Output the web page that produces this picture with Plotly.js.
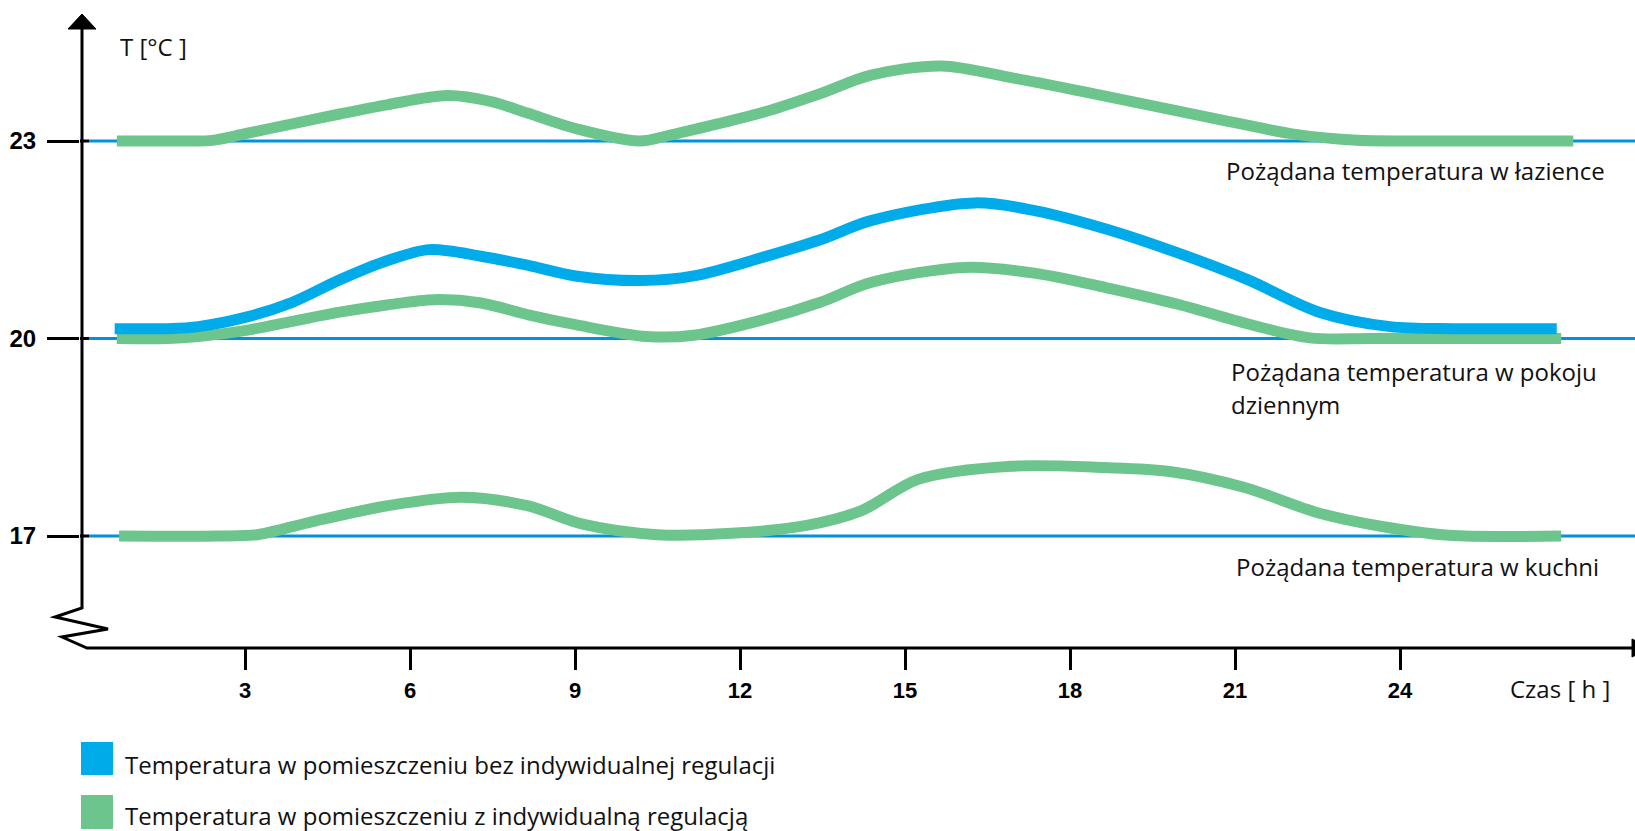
<!DOCTYPE html>
<html>
<head>
<meta charset="utf-8">
<script src="https://cdn.plot.ly/plotly-3.0.1.min.js"></script>
<style>
html,body{margin:0;padding:0;background:#fff;}
#chart{width:1635px;height:831px;}
</style>
</head>
<body>
<div id="chart"></div>
<script>
// ---------- data ----------
const hourTicks = [3, 6, 9, 12, 15, 18, 21, 24];
const tempTicks = [17, 20, 23];

const desiredTemps = [23, 20, 17];
const desiredLabels = [
  "Pożądana temperatura w łazience",
  "Pożądana temperatura w pokoju",
  "Pożądana temperatura w kuchni"
];
const desiredLabelExtra = "dziennym";

const seriesNames = [
  "Temperatura w pomieszczeniu bez indywidualnej regulacji",
  "Temperatura w pomieszczeniu z indywidualną regulacją"
];

// bathroom, with individual regulation
const hoursBath = [0.67, 2.0, 2.4, 3.0, 3.86, 4.72, 5.58, 6.69, 7.47, 8.15, 9.01, 10.17, 10.73, 11.59, 12.44, 13.46, 14.38, 15.66, 16.95, 18.24, 19.53, 20.81, 22.10, 23.22, 24.5, 27.15];
const tempBath  = [23.0, 23.0, 23.01, 23.11, 23.26, 23.41, 23.55, 23.69, 23.60, 23.42, 23.19, 23.0, 23.09, 23.26, 23.44, 23.72, 24.0, 24.14, 23.96, 23.75, 23.53, 23.31, 23.10, 23.01, 23.0, 23.0];

// living room, without individual regulation
const hoursNoReg = [0.63, 1.6, 2.15, 3.0, 3.86, 4.72, 5.58, 6.35, 7.29, 8.15, 9.01, 10.21, 11.16, 12.44, 13.46, 14.38, 16.27, 17.38, 18.67, 19.96, 21.24, 22.53, 23.82, 25.0, 26.85];
const tempNoReg  = [20.15, 20.15, 20.18, 20.32, 20.55, 20.89, 21.18, 21.35, 21.25, 21.11, 20.95, 20.88, 20.95, 21.24, 21.50, 21.79, 22.06, 21.94, 21.66, 21.30, 20.89, 20.40, 20.18, 20.15, 20.15];

// living room, with individual regulation
const hoursLiving = [0.67, 1.6, 2.15, 3.0, 3.86, 4.72, 5.58, 6.44, 7.29, 8.15, 9.01, 10.30, 11.16, 12.44, 13.46, 14.38, 16.09, 17.38, 18.67, 19.96, 21.24, 22.36, 23.5, 26.93];
const tempLiving  = [20.0, 20.0, 20.03, 20.12, 20.26, 20.40, 20.51, 20.59, 20.54, 20.36, 20.21, 20.03, 20.05, 20.29, 20.55, 20.85, 21.08, 20.99, 20.77, 20.52, 20.22, 20.01, 20.0, 20.0];

// kitchen, with individual regulation
const hoursKitchen = [0.71, 2.5, 3.22, 4.23, 5.59, 6.94, 8.13, 9.14, 10.50, 11.85, 13.21, 14.22, 15.24, 16.93, 18.62, 19.81, 21.16, 22.52, 23.70, 24.89, 26.93];
const tempKitchen  = [17.0, 17.0, 17.02, 17.22, 17.46, 17.59, 17.46, 17.18, 17.02, 17.04, 17.16, 17.39, 17.86, 18.06, 18.04, 17.98, 17.74, 17.35, 17.14, 17.01, 17.0];

// ---------- styling ----------
const W = 1635, H = 831;
const M = {l: 80, r: 2, t: 14, b: 183};
const PW = W - M.l - M.r, PH = H - M.t - M.b;
const PX_PER_HOUR = 55, PX_PER_DEG = 65.83;
const xRange = [0, PW / PX_PER_HOUR];
const yRange = [17 - (648 - 536) / PX_PER_DEG, 23 + (141 - 14) / PX_PER_DEG];

const GREEN = "#6cc58c", BLUE = "#00abe9", LINEBLUE = "#0092da";
const TXT = "'Open Sans', Lato, sans-serif";
const TXT_SIZE = 24;

function fx(px){ return (px - M.l) / PW; }
function fy(py){ return (M.t + PH - py) / PH; }
function pathOf(pts){ return pts.map((p,i)=>(i?"L":"M")+fx(p[0]).toFixed(5)+","+fy(p[1]).toFixed(5)).join(" ") ; }

const curveLine = (c) => ({color: c, width: 11, shape: "spline", smoothing: 0.9});

const traces = [
  {x: hoursLiving, y: tempLiving, mode: "lines", line: curveLine(GREEN), name: seriesNames[1], showlegend: false, hoverinfo: "skip"},
  {x: hoursNoReg, y: tempNoReg, mode: "lines", line: curveLine(BLUE), name: seriesNames[0], showlegend: false, hoverinfo: "skip"},
  {x: hoursBath, y: tempBath, mode: "lines", line: curveLine(GREEN), name: seriesNames[1], showlegend: false, hoverinfo: "skip"},
  {x: hoursKitchen, y: tempKitchen, mode: "lines", line: curveLine(GREEN), name: seriesNames[1], showlegend: false, hoverinfo: "skip"}
];

const shapes = [];
// desired temperature lines
desiredTemps.forEach(t => shapes.push({
  type: "line", layer: "below", xref: "paper", yref: "y",
  x0: fx(89), x1: 1.02, y0: t, y1: t,
  line: {color: LINEBLUE, width: 3}
}));
// axes with break and arrows
shapes.push({type: "path", xref: "paper", yref: "paper", layer: "above",
  path: pathOf([[82,26],[82,608],[55,617],[108,629],[62,637],[87,648],[1634,648]]),
  line: {color: "#000", width: 3}});
shapes.push({type: "path", xref: "paper", yref: "paper", layer: "above",
  path: pathOf([[82,14],[96,29],[68,29]]) + " Z",
  fillcolor: "#000", line: {color: "#000", width: 1}});
shapes.push({type: "path", xref: "paper", yref: "paper", layer: "above",
  path: pathOf([[1632,639],[1650,648],[1632,657]]) + " Z",
  fillcolor: "#000", line: {color: "#000", width: 1}});
// y tick stubs crossing to the right of the axis
tempTicks.forEach(t => shapes.push({type: "line", xref: "paper", yref: "y",
  x0: fx(80), x1: fx(89), y0: t, y1: t, line: {color: "#000", width: 3}}));
// legend squares
shapes.push({type: "rect", xref: "paper", yref: "paper", x0: fx(81), x1: fx(113), y0: fy(775), y1: fy(742),
  fillcolor: BLUE, line: {width: 0}});
shapes.push({type: "rect", xref: "paper", yref: "paper", x0: fx(81), x1: fx(113), y0: fy(829), y1: fy(795),
  fillcolor: GREEN, line: {width: 0}});

const ann = (text, px, py) => ({
  text: text, xref: "paper", yref: "paper", x: fx(px), y: fy(py),
  xanchor: "left", yanchor: "middle", showarrow: false,
  font: {family: TXT, size: TXT_SIZE, color: "#111"}
});

const annotations = [
  ann("T [°C ]", 118, 46),
  ann(desiredLabels[0], 1224, 170),
  ann(desiredLabels[1], 1229, 371),
  ann(desiredLabelExtra, 1229, 405),
  ann(desiredLabels[2], 1234, 566),
  ann("Czas [ h ]", 1508, 688),
  ann(seriesNames[0], 123, 764),
  ann(seriesNames[1], 123, 815)
];

const layout = {
  width: W, height: H,
  margin: M,
  paper_bgcolor: "#fff", plot_bgcolor: "#fff",
  showlegend: false,
  xaxis: {
    range: xRange, showline: false, showgrid: false, zeroline: false,
    tickmode: "array", tickvals: hourTicks, ticktext: hourTicks.map(String),
    ticks: "outside", ticklen: 21, tickwidth: 3, tickcolor: "#000",
    ticklabelstandoff: 2,
    tickfont: {family: "'Liberation Sans', Arial, sans-serif", size: 22, color: "#000", weight: "bold"}
  },
  yaxis: {
    range: yRange, showline: false, showgrid: false, zeroline: false,
    tickmode: "array", tickvals: tempTicks, ticktext: tempTicks.map(String),
    ticks: "outside", ticklen: 32, tickwidth: 3, tickcolor: "#000",
    ticklabelstandoff: 6,
    tickfont: {family: "'Liberation Sans', Arial, sans-serif", size: 24, color: "#000", weight: "bold"}
  },
  shapes: shapes,
  annotations: annotations
};

Plotly.newPlot("chart", traces, layout, {staticPlot: true, displayModeBar: false});
</script>
</body>
</html>
